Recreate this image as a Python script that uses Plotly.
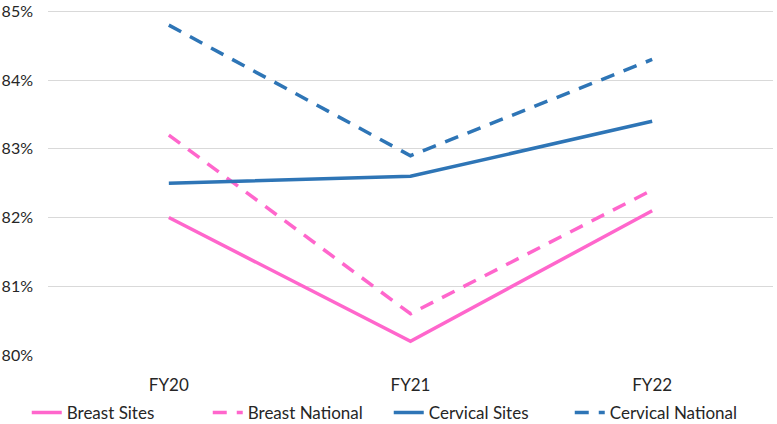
import plotly.graph_objects as go

years = ["FY20", "FY21", "FY22"]
breast_sites = [82.0, 80.2, 82.1]
breast_national = [83.2, 80.6, 82.4]
cervical_sites = [82.5, 82.6, 83.4]
cervical_national = [84.8, 82.9, 84.3]
y_ticks = [80, 81, 82, 83, 84, 85]

pink = "#FF66CC"
blue = "#2E75B6"
dashed = "14px,10px"

fig = go.Figure()
fig.add_trace(go.Scatter(x=years, y=breast_sites, name="Breast Sites", mode="lines",
                         line=dict(color=pink, width=3.5)))
fig.add_trace(go.Scatter(x=years, y=breast_national, name="Breast National", mode="lines",
                         line=dict(color=pink, width=3.5, dash=dashed)))
fig.add_trace(go.Scatter(x=years, y=cervical_sites, name="Cervical Sites", mode="lines",
                         line=dict(color=blue, width=3.5)))
fig.add_trace(go.Scatter(x=years, y=cervical_national, name="Cervical National", mode="lines",
                         line=dict(color=blue, width=3.5, dash=dashed)))

fig.update_layout(
    width=777, height=424,
    margin=dict(l=48, r=4, t=10, b=69, autoexpand=False),
    plot_bgcolor="white", paper_bgcolor="white",
    font=dict(family="Lato, Liberation Sans, sans-serif", size=17, color="#262626"),
    showlegend=True,
    legend=dict(orientation="h", x=0.47, xanchor="center", yref="container",
                y=0.026, yanchor="middle", font=dict(size=17), traceorder="normal",
                entrywidth=136),
)
fig.update_xaxes(range=[-0.5, 2.5], showgrid=False, showline=False, ticks="",
                 ticklabelstandoff=18)
fig.update_yaxes(range=[80, 85.02], tickvals=y_ticks, ticktext=[f"{v}%" for v in y_ticks],
                 showgrid=True, gridcolor="#D9D9D9", gridwidth=1, zeroline=False,
                 showline=False, ticklabelstandoff=14, ticklabeloverflow="allow",
                 tickfont=dict(size=16))

# browser default body margin would shift the figure by 8px
fig.write_html("out.html", config={"displayModeBar": False},
               post_script="document.body.style.margin='0';")
